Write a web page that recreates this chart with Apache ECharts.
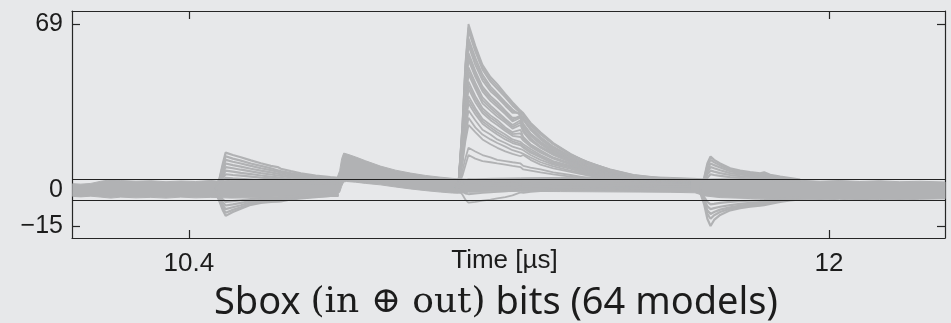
<!DOCTYPE html>
<html><head><meta charset="utf-8">
<script src="https://cdn.jsdelivr.net/npm/echarts@6/dist/echarts.min.js"></script>
<style>html,body{margin:0;padding:0;background:#e7e8ea}#c{width:951px;height:323px}</style>
</head><body><div id="c"></div>
<script>
// ---- axis settings ----
const xTickValues = [10.4, 12];
const yTickValues = [-15, 0, 69];
const thresholds = [4.5, -4.5];

// ---- noise band (envelope of all 64 traces outside the distinct excursions) ----
const bandTime = [10.110,10.130,10.155,10.180,10.205,10.230,10.268,10.305,10.343,10.380,10.417,10.455,10.475,10.505,10.555,10.605,10.655,10.705,10.742,10.769,10.777,10.782,10.787,10.794,10.817,10.842,10.879,10.917,10.954,10.992,11.029,11.059,11.074,11.099,11.154,11.229,11.329,11.428,11.528,11.603,11.665,11.690,11.728,11.803,11.878,11.928,11.978,12.027,12.077,12.127,12.177,12.227,12.290];
const bandHigh = [2.6,2.4,2.7,3.6,4.2,3.9,3.6,3.8,3.4,3.7,3.5,3.9,3.6,4.0,4.2,4.4,4.5,4.7,4.5,4.3,8.0,13.0,15.3,15.0,13.7,12.1,9.9,8.2,7.0,6.0,5.3,4.8,4.6,4.5,4.8,5.0,5.2,5.4,5.6,5.2,4.8,4.5,4.6,4.5,4.2,4.0,3.6,3.9,3.5,3.8,3.4,3.6,3.3];
const bandLow = [-2.7,-2.9,-2.6,-3.0,-3.4,-3.0,-3.3,-3.1,-3.4,-3.0,-3.3,-3.1,-3.2,-3.4,-3.3,-3.0,-2.6,-2.3,-2.1,-2.0,-1.0,1.5,3.3,3.5,3.2,2.7,2.1,1.2,0.4,-0.3,-0.9,-1.3,-1.4,-1.0,-0.8,-0.6,-0.7,-0.8,-0.9,-1.0,-1.2,-2.5,-3.2,-3.6,-3.9,-4.0,-4.2,-3.9,-4.3,-4.0,-4.2,-3.9,-3.7];

// ---- first excursion (~10.49 µs) ----
const p1Time = [10.467,10.477,10.485,10.492,10.510,10.530,10.555,10.580,10.605,10.622,10.630,10.655,10.680,10.717,10.754,10.774];
const p1Traces = [
  [1,5,11,15.5,14.5,13.6,12.3,11.1,10,9.5,8.8,7.8,6.9,6,5.3,5],
  [0.5,4.5,10,14,13,12.2,11,10,9,8.2,7.8,7,6.3,5.5,4.8,4.5],
  [1,4,9,12.5,11.7,11,10,9,8.2,7.6,7.2,6.4,5.8,5,4.4,4.2],
  [0,3.5,8,11,10.3,9.7,8.8,8,7.3,6.8,6.5,5.8,5.3,4.6,4,3.8],
  [0.5,3,7,9.5,9,8.4,7.7,7,6.4,6,5.8,5.2,4.7,4.2,3.7,3.5],
  [0,2.5,6,8,7.6,7.1,6.6,6,5.5,5.2,5,4.5,4.1,3.7,3.3,3.2],
  [0.5,2,5,6.5,6.2,5.9,5.5,5.1,4.8,4.5,4.3,4,3.7,3.3,3,2.8],
  [0,2,4,5,4.8,4.6,4.3,4,3.8,3.6,3.5,3.2,3,2.8,2.6,2.5],
  [-1,-5,-8.5,-10.8,-9.2,-7.8,-6.2,-5.4,-5,-4.9,-4.8,-4,-3.5,-3,-2.5,-2.5],
  [0,-4.5,-7.5,-9.5,-8.3,-7.2,-5.8,-5,-4.6,-4.4,-4.2,-3.6,-3.2,-2.8,-2.5,-2.3],
  [-1,-4,-6.5,-8,-7.2,-6.4,-5.2,-4.6,-4.2,-4,-3.8,-3.3,-3,-2.6,-2.3,-2.2],
  [0,-3,-5.2,-6.5,-6,-5.4,-4.6,-4.1,-3.8,-3.6,-3.5,-3,-2.7,-2.4,-2.1,-2],
  [-0.5,-2.5,-4,-5,-4.7,-4.3,-3.8,-3.5,-3.3,-3.1,-3,-2.7,-2.4,-2.2,-2,-2]
];

// ---- main excursion (~11.10 µs) ----
const p3Time = [11.066,11.074,11.084,11.091,11.099,11.116,11.134,11.154,11.171,11.191,11.209,11.229,11.236,11.254,11.279,11.311,11.354,11.396,11.453,11.511,11.578,11.653];
const p3Traces = [
  [1.5,3,28,52,69,60,52,47,44,40,36.5,33,32,28,24,19.5,15,11.5,8.5,6.2,5,4],
  [1,3,27.5,51,67.5,59,51,46,43,39.2,35.8,32.5,31.5,27.5,23.5,19.2,14.8,11.6,8.4,6.1,4.9,3.8],
  [1,3,27,50,66,57.5,50,45,42,38.5,35,32,31,27,23,19,14.5,11.8,8.2,6,4.8,3.5],
  [2,3,25,47,63,55,48,43,40,36.5,33.5,31,30,26,22,18,14,11,8,5.8,4.5,3.5],
  [1.5,3,24.5,46,61.5,53.5,46.8,42,39.2,35.8,32.8,31.5,29.5,25.5,21.5,17.5,13.8,10.8,7.8,5.6,4.3,3.2],
  [1,2.5,24,45,60,52,45.5,41,38.5,35,32,32,29,25,21,17,13.5,10.5,7.5,5.5,4.2,3],
  [1.5,3,23,43,57,49.5,43,39,36.5,33,30,30,27.5,23.5,20,16.5,13,10,7.2,5.3,4,3],
  [1,2.5,22.5,41.5,55.5,48.2,42,38,35.5,32.2,29.2,31,26.8,23,19.5,16,12.8,9.8,7.1,5.1,4,3],
  [1,2.5,22,40,54,47,41,37,34.5,31.5,28.5,30,26,22.5,19,15.5,12.5,9.5,7,5,4,3],
  [2,3,20,38,51,44.5,38.5,35,32.5,29.5,27,29,25,21.5,18,15,12,9.2,6.8,5,3.8,2.8],
  [1.5,3,19.5,37,49.5,43.2,37.2,34,31.5,28.8,26.2,28,24.5,21,17.8,14.8,11.8,9.1,6.6,4.9,3.7,2.7],
  [1,2.5,19,36,48,42,36,33,30.5,28,25.5,27,24,20.5,17.5,14.5,11.5,9,6.5,4.8,3.6,2.6],
  [1.5,3,18,34,45,39,34,31,29,26,24,25,22,19,16.5,13.5,11,8.5,6.2,4.6,3.5,2.5],
  [1,2.5,17.5,32.5,43.5,37.8,33,30,28,25.2,23.2,23.5,21.2,18.5,16,13.2,10.8,8.2,6.1,4.5,3.4,2.5],
  [1,2.5,17,31,42,36.5,32,29,27,24.5,22.5,22,20.5,18,15.5,13,10.5,8,6,4.5,3.4,2.5],
  [2,3,16,29,39,34,29.5,27,25,23,21,20,19,17,14.5,12,10,7.6,5.8,4.3,3.3,2.4],
  [1.5,3,15.5,28,37.5,32.8,28.5,26,24,22,20.2,19.2,18.2,16.2,14,11.5,9.6,7.4,5.6,4.2,3.2,2.3],
  [1,2.5,15,27,36,31.5,27.5,25,23,21,19.5,18.5,17.5,15.5,13.5,11,9.3,7.2,5.5,4.2,3.2,2.3],
  [1.5,3,13,25,33,29,25,23,21,19.5,18,17,16.5,14.5,12.5,10.5,8.7,6.8,5.2,4,3,2.2],
  [1,2.5,12,22,30,26,23,21,19.5,18,16.5,15.5,15,13.5,11.5,9.8,8,6.5,5,3.8,3,2.2],
  [1.5,3,11,20,27,24,21,19,17.5,16,15,14,14.5,12.5,10.5,9,7.5,6,4.5,3.5,2.8,2],
  [1,2,8,13,17.5,16,14.5,13.5,12.5,12,11.5,11,10,9.3,8.5,7.3,6.2,5,4,3.2,2.5,2],
  [1.5,2,6,10,14.5,13,12,11.5,11,10.5,10,9.5,8.5,8,7.3,6.5,5.5,4.5,3.7,3,2.4,2],
  [1,1.5,2.5,3.5,4.5,4.2,4,3.8,3.6,3.4,3.2,3.5,3,2.8,2.6,2.4,2.2,2,1.8,1.6,1.4,1.2],
  [1,1,1.5,2,2.3,2.2,2,1.9,1.8,1.7,1.6,2.3,1.5,1.4,1.3,1.2,1.1,1,1,0.9,0.8,0.7],
  [0.5,0,-0.8,-1.5,-1.8,-1.5,-1.2,-1,-0.8,-0.6,-0.4,0.5,-0.2,0,0,0.2,0.3,0.4,0.5,0.5,0.6,0.6],
  [0.5,0,-2,-4,-5.3,-5,-4.5,-4,-3.5,-3,-2.3,-1,-1.2,-0.8,-0.5,-0.2,0,0.2,0.3,0.4,0.5,0.5]
];

// ---- last excursion (~11.70 µs) ----
const p4Time = [11.678,11.688,11.696,11.704,11.713,11.728,11.753,11.778,11.803,11.828,11.838,11.853,11.878,11.903,11.928];
const p4Traces = [
  [1,5,11,13.9,12.5,11,9,8,7.4,6.9,7.3,6.3,5.5,4.9,4.3],
  [0.5,4.5,10,12.5,11.5,10.2,8.5,7.6,7,6.5,6.8,6,5.2,4.6,4],
  [1,4,8.5,11,10.3,9.3,7.8,7,6.5,6.1,6.3,5.6,4.9,4.3,3.8],
  [0.5,3.5,7.5,9.5,9,8.2,7,6.4,6,5.6,5.8,5.2,4.6,4.1,3.6],
  [0,3,6.5,8,7.6,7,6.2,5.7,5.4,5.1,5.2,4.8,4.3,3.9,3.5],
  [0.5,2.5,5,6.5,6.2,5.8,5.3,5,4.7,4.5,4.6,4.3,3.9,3.6,3.3],
  [-1,-6,-12,-15,-12.5,-10.4,-8.5,-7.6,-7,-6.5,-6.3,-5.8,-5,-4.4,-3.9],
  [0,-5,-10,-12,-10.5,-9.2,-7.8,-7,-6.5,-6.1,-6,-5.5,-4.7,-4.1,-3.7],
  [-1,-4.5,-8.5,-10,-9.2,-8.2,-7.2,-6.5,-6,-5.7,-5.5,-5.1,-4.4,-3.9,-3.5],
  [0,-4,-6.8,-8,-7.6,-7,-6.3,-5.8,-5.4,-5.1,-5,-4.7,-4.1,-3.7,-3.3],
  [-0.5,-3,-5,-6,-5.8,-5.4,-5,-4.7,-4.5,-4.3,-4.2,-4,-3.6,-3.3,-3]
];

// ---- styling ----
const traceColor = '#b1b2b4';
const ink = '#1c1c1c';
const axisStyle = {color: '#262626', width: 1.2};
const labelFont = 'Liberation Sans, Arial, sans-serif';
const fmt = v => (v < 0 ? '\u2212' + Math.abs(v) : String(v));

const series = [];
series.push({
  type: 'custom', silent: true, animation: false, z: 1,
  data: [[bandTime[0], bandHigh[0]]],
  renderItem: (params, api) => {
    const pts = [];
    for (let i = 0; i < bandTime.length; i++) pts.push(api.coord([bandTime[i], bandHigh[i]]));
    for (let i = bandTime.length - 1; i >= 0; i--) pts.push(api.coord([bandTime[i], bandLow[i]]));
    return {type: 'polygon', shape: {points: pts}, style: {fill: traceColor, stroke: traceColor, lineWidth: 1}};
  }
});
function addGroup(times, traces, width) {
  traces.forEach(vals => {
    series.push({
      type: 'line', silent: true, animation: false, symbol: 'none', z: 2,
      lineStyle: {color: traceColor, width: width},
      data: times.map((t, i) => [t, vals[i]])
    });
  });
}
addGroup(p1Time, p1Traces, 2.2);
addGroup(p3Time, p3Traces, 1.8);
addGroup(p4Time, p4Traces, 2.2);
series.push({
  type: 'line', silent: true, animation: false, symbol: 'none', z: 5, data: [],
  markLine: {silent: true, symbol: 'none', animation: false, label: {show: false},
    lineStyle: {color: '#222', width: 1.2, type: 'solid'},
    data: thresholds.map(v => ({yAxis: v}))}
});

const xMin = 10.108, xMax = 12.29, yMin = -20, yMax = 74.4;
const chart = echarts.init(document.getElementById('c'), null, {renderer: 'canvas'});
chart.setOption({
  backgroundColor: '#e7e8ea',
  animation: false,
  grid: {left: 72, right: 6, top: 11, bottom: 85},
  title: {
    text: '{a|Sbox }{b|(in \u2295 out)}{a| bits (64 models)}',
    left: 209, top: 279,
    textStyle: {fontWeight: 'normal', rich: {
      a: {fontFamily: 'Noto Sans', fontSize: 38, fontWeight: 'normal', color: ink},
      b: {fontFamily: 'DejaVu Serif', fontSize: 36, fontWeight: 'normal', color: ink}
    }}
  },
  xAxis: [
    {type: 'value', min: xMin, max: xMax, position: 'bottom',
     axisLine: {show: true, onZero: false, lineStyle: axisStyle},
     axisTick: {show: true, inside: true, length: 8, customValues: xTickValues, lineStyle: axisStyle},
     axisLabel: {customValues: xTickValues, formatter: fmt, fontSize: 26, color: ink, fontFamily: labelFont, margin: 13},
     splitLine: {show: false},
     name: 'Time [\u00b5s]', nameLocation: 'middle', nameGap: 10, nameMoveOverlap: false,
     nameTextStyle: {fontSize: 26, color: ink, fontFamily: labelFont, verticalAlign: 'top', padding: [0, 8, 0, 0]}},
    {type: 'value', min: xMin, max: xMax, position: 'top',
     axisLine: {show: true, onZero: false, lineStyle: axisStyle},
     axisTick: {show: true, inside: true, length: 8, customValues: xTickValues, lineStyle: axisStyle},
     axisLabel: {show: false}, splitLine: {show: false}}
  ],
  yAxis: [
    {type: 'value', min: yMin, max: yMax, position: 'left',
     axisLine: {show: true, onZero: false, lineStyle: axisStyle},
     axisTick: {show: true, inside: true, length: 8, customValues: yTickValues, lineStyle: axisStyle},
     axisLabel: {customValues: yTickValues, formatter: fmt, fontSize: 25, color: ink, fontFamily: labelFont, margin: 9},
     splitLine: {show: false}},
    {type: 'value', min: yMin, max: yMax, position: 'right',
     axisLine: {show: true, onZero: false, lineStyle: axisStyle},
     axisTick: {show: true, inside: true, length: 8, customValues: yTickValues, lineStyle: axisStyle},
     axisLabel: {show: false}, splitLine: {show: false}}
  ],
  series: series
});
</script></body></html>
